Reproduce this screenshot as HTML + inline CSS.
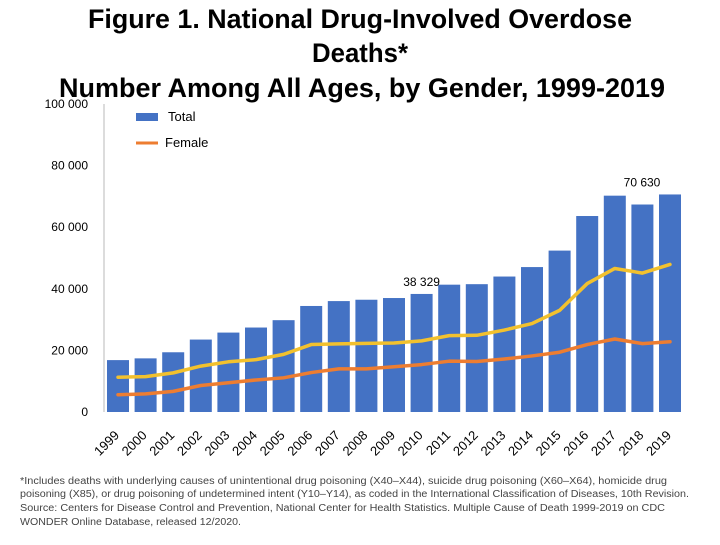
<!DOCTYPE html>
<html><head><meta charset="utf-8"><style>
body{margin:0;background:#fff}
svg text{font-family:"Liberation Sans",sans-serif}
</style></head><body>
<svg id="chart" width="720" height="540" xmlns="http://www.w3.org/2000/svg">
<g font-weight="bold" font-size="27" text-anchor="middle" fill="#000">
<text x="360" y="28" textLength="544" lengthAdjust="spacingAndGlyphs">Figure 1. National Drug-Involved Overdose</text>
<text x="360" y="62" textLength="96" lengthAdjust="spacingAndGlyphs">Deaths*</text>
<text x="362" y="97" textLength="606" lengthAdjust="spacingAndGlyphs">Number Among All Ages, by Gender, 1999-2019</text>
</g>
<line x1="104" y1="104" x2="104" y2="412" stroke="#d0d0d0" stroke-width="1.5"/>
<g id="yticks"></g>
<g id="bars"></g>
<g id="lines"></g>
<g id="xlabels"></g>
<g>
<rect x="136" y="113" width="22" height="8" fill="#4472c4"/>
<text x="168" y="121" font-size="13">Total</text>
<line x1="136" y1="143" x2="158" y2="143" stroke="#ed7d31" stroke-width="3"/>
<text x="165" y="147" font-size="13">Female</text>
</g>
<g font-size="10" fill="#444">
<text x="20" y="484" textLength="647" lengthAdjust="spacingAndGlyphs">*Includes deaths with underlying causes of unintentional drug poisoning (X40–X44), suicide drug poisoning (X60–X64), homicide drug</text>
<text x="20" y="497" textLength="669" lengthAdjust="spacingAndGlyphs">poisoning (X85), or drug poisoning of undetermined intent (Y10–Y14), as coded in the International Classification of Diseases, 10th Revision.</text>
<text x="20" y="511" textLength="645" lengthAdjust="spacingAndGlyphs">Source: Centers for Disease Control and Prevention, National Center for Health Statistics. Multiple Cause of Death 1999-2019 on CDC</text>
<text x="20" y="525" textLength="221" lengthAdjust="spacingAndGlyphs">WONDER Online Database, released 12/2020.</text>
</g>
</svg>
<script>
const years=["1999","2000","2001","2002","2003","2004","2005","2006","2007","2008","2009","2010","2011","2012","2013","2014","2015","2016","2017","2018","2019"];
const total=[16849,17415,19394,23518,25785,27424,29813,34425,36010,36450,37004,38329,41340,41502,43982,47055,52404,63632,70237,67367,70630];
const male=[11300,11500,12700,14900,16300,17000,18700,21900,22100,22300,22400,23100,24800,24900,26600,28700,33000,41700,46600,45100,47900];
const female=[5600,5900,6700,8600,9500,10400,11100,12800,14000,14000,14700,15400,16500,16400,17200,18200,19400,21900,23700,22200,22800];
const yTicks=[0,20000,40000,60000,80000,100000];
const yTickLabels=["0","20 000","40 000","60 000","80 000","100 000"];
const dataLabels=[{i:11,t:"38 329",dx:0},{i:20,t:"70 630",dx:-28}];
const NS="http://www.w3.org/2000/svg";
const y0=412,yTop=104,maxV=100000,x0=107,pitch=27.6,bw=22;
const yS=v=>y0-(v/maxV)*(y0-yTop);
const xC=i=>x0+i*pitch+bw/2;
function mk(t,a,p){const e=document.createElementNS(NS,t);for(const k in a)e.setAttribute(k,a[k]);p.appendChild(e);return e;}
const gy=document.getElementById('yticks');
yTicks.forEach((v,k)=>{const t=mk('text',{x:88,y:yS(v)+4,'font-size':12,'text-anchor':'end'},gy);t.textContent=yTickLabels[k];

});
const gb=document.getElementById('bars');
total.forEach((v,i)=>{const r=mk('rect',{x:xC(i)-bw/2,y:yS(v),width:bw,height:y0-yS(v),fill:'#4472c4'},gb);

});
dataLabels.forEach(d=>{const t=mk('text',{x:xC(d.i)+d.dx,y:yS(total[d.i])-8,'font-size':12,'text-anchor':'middle'},gb);t.textContent=d.t;

});
const gl=document.getElementById('lines');
function line(arr,col,name){const p=mk('polyline',{points:arr.map((v,i)=>xC(i)+','+yS(v)).join(' '),fill:'none',stroke:col,'stroke-width':3.5,'stroke-linejoin':'round','stroke-linecap':'round'},gl);

}
line(male,'#f2c12e','male-line');
line(female,'#ed7d31','female-line');
const gx=document.getElementById('xlabels');
years.forEach((y,i)=>{const cx=xC(i)+2,cy=436;const t=mk('text',{x:cx,y:cy,'font-size':13,'text-anchor':'end',transform:`rotate(-45 ${cx} ${cy})`},gx);t.textContent=y;

});
</script>
</body></html>
